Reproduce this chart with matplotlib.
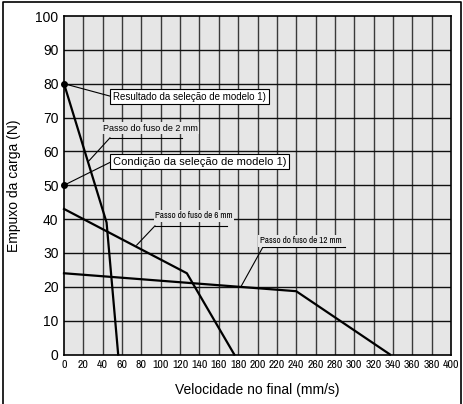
import matplotlib
matplotlib.use("Agg")
import matplotlib.pyplot as plt
from matplotlib.lines import Line2D

# ── Data ─────────────────────────────────────────────────────────────
lead_2mm_x = [0, 44, 56]
lead_2mm_y = [80, 39, 0]
lead_6mm_x = [0, 127, 176]
lead_6mm_y = [43, 24, 0]
lead_12mm_x = [0, 240, 337]
lead_12mm_y = [24, 18.7, 0]

selection_points_x = [0, 0]
selection_points_y = [80, 50]

x_ticks = list(range(0, 401, 20))
y_ticks = list(range(0, 101, 10))

NARROW = ["Archivo Narrow", "Roboto Condensed", "DejaVu Sans"]
plt.rcParams["font.family"] = ["Liberation Sans", "DejaVu Sans"]

fig = plt.figure(figsize=(4.63, 4.04), dpi=100)
ax = fig.add_axes([64 / 463, 1 - 354.5 / 404, 387 / 463, 338.5 / 404])
ax.set_facecolor("#e6e6e6")

ax.set_xlim(0, 400)
ax.set_ylim(0, 100)
ax.set_xticks(x_ticks)
ax.set_yticks(y_ticks)
ax.set_xticklabels([str(v) for v in x_ticks], family=NARROW, fontsize=8.5)
ax.set_yticklabels([str(v) for v in y_ticks], fontsize=10)
ax.tick_params(length=0, pad=4)
ax.tick_params(axis="x", pad=4)

for v in x_ticks[1:-1]:
    ax.axvline(v, color="#3a3a3a", lw=1.0, zorder=1)
for v in y_ticks[1:-1]:
    ax.axhline(v, color="#111111", lw=1.0, zorder=1)
for s in ax.spines.values():
    s.set_linewidth(1.2)
    s.set_zorder(6)

# ── Curves ───────────────────────────────────────────────────────────
for xs, ys in [(lead_2mm_x, lead_2mm_y), (lead_6mm_x, lead_6mm_y),
               (lead_12mm_x, lead_12mm_y)]:
    ax.plot(xs, ys, color="black", lw=1.6, zorder=4, clip_on=False)

ax.plot(selection_points_x, selection_points_y, "o", color="black",
        ms=4, zorder=7, clip_on=False)

# ── Annotations ──────────────────────────────────────────────────────
thin = dict(color="black", lw=0.8, zorder=5)
ax.plot([0, 49.3], [80, 76.2], **thin, clip_on=False)
ax.plot([0, 49.3], [50, 57.0], **thin, clip_on=False)

ax.text(50.8, 76.2, "Resultado da seleção de modelo 1)", fontsize=7,
        ha="left", va="center", zorder=6,
        bbox=dict(boxstyle="square,pad=0.3", fc="white", ec="black", lw=0.8))
ax.text(50.8, 57.0, "Condição da seleção de modelo 1)", fontsize=8,
        ha="left", va="center", zorder=6,
        bbox=dict(boxstyle="square,pad=0.25", fc="white", ec="black", lw=0.8))

bg = dict(boxstyle="square,pad=0.15", fc="#e6e6e6", ec="none")

# 2 mm
ax.plot([25.1, 47.5], [57.0, 64.0], **thin)
ax.plot([47.5, 122], [64.0, 64.0], **thin)
ax.text(89.4, 66.9, "Passo do fuso de 2 mm", fontsize=6.5, ha="center",
        va="center", zorder=6, bbox=bg)

# 6 mm
ax.plot([75.1, 94], [32.3, 38.0], **thin)
ax.plot([94, 168.5], [38.0, 38.0], **thin)
ax.text(134.4, 41.0, "Passo do fuso de 6 mm", fontsize=6.5, ha="center",
        va="center", zorder=6, family=NARROW, bbox=bg)

# 12 mm
ax.plot([183, 205.7], [20.1, 31.8], **thin)
ax.plot([205.7, 290.4], [31.8, 31.8], **thin)
ax.text(244.4, 33.6, "Passo do fuso de 12 mm", fontsize=6.5, ha="center",
        va="center", zorder=6, family=NARROW, bbox=bg)

ax.set_xlabel("Velocidade no final (mm/s)", fontsize=10, labelpad=9)
ax.set_ylabel("Empuxo da carga (N)", fontsize=10, labelpad=10)

# outer frame (left, top, right)
fx0, fx1, fy1 = 3 / 463, 460.5 / 463, 1 - 1.5 / 404
fig.add_artist(Line2D([fx0, fx0, fx1, fx1], [0, fy1, fy1, 0],
                      color="black", lw=1.2))

fig.savefig("out.png", dpi=100, facecolor="white")
